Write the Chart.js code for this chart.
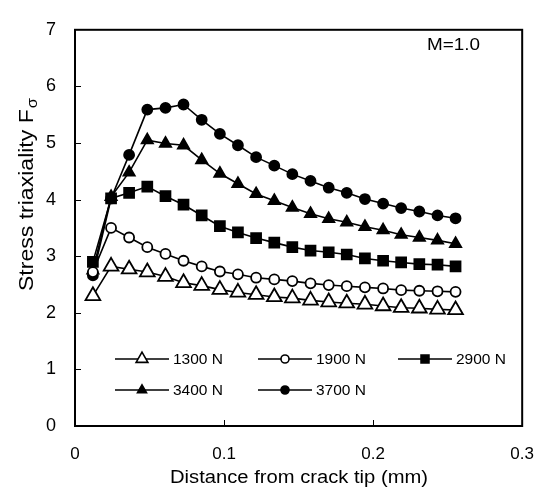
<!DOCTYPE html>
<html><head><meta charset="utf-8">
<script src="https://cdn.jsdelivr.net/npm/chart.js@4/dist/chart.umd.min.js"></script>
<style>html,body{margin:0;padding:0;background:#fff}#wrap{width:552px;height:495px}</style>
</head><body><div id="wrap"><canvas id="c" width="552" height="495"></canvas></div>
<script>
const distance = [0.0120, 0.0242, 0.0363, 0.0485, 0.0607, 0.0728, 0.0850, 0.0972, 0.1093, 0.1215, 0.1337, 0.1458, 0.1580, 0.1702, 0.1823, 0.1945, 0.2067, 0.2188, 0.2310, 0.2432, 0.2553];
const load1300 = [2.30, 2.82, 2.77, 2.72, 2.64, 2.53, 2.48, 2.41, 2.36, 2.32, 2.28, 2.26, 2.22, 2.19, 2.17, 2.15, 2.12, 2.09, 2.08, 2.06, 2.05];
const load1900 = [2.72, 3.50, 3.33, 3.16, 3.04, 2.92, 2.82, 2.73, 2.68, 2.62, 2.59, 2.56, 2.52, 2.49, 2.47, 2.45, 2.43, 2.40, 2.39, 2.38, 2.37];
const load2900 = [2.90, 4.02, 4.12, 4.23, 4.06, 3.91, 3.72, 3.53, 3.42, 3.32, 3.24, 3.16, 3.10, 3.07, 3.03, 2.96, 2.92, 2.89, 2.86, 2.85, 2.82];
const load3400 = [2.75, 4.05, 4.48, 5.05, 4.99, 4.96, 4.70, 4.46, 4.28, 4.10, 3.98, 3.86, 3.75, 3.66, 3.60, 3.52, 3.46, 3.38, 3.33, 3.28, 3.22];
const load3700 = [2.66, 4.02, 4.79, 5.59, 5.62, 5.68, 5.41, 5.16, 4.96, 4.75, 4.60, 4.45, 4.33, 4.21, 4.12, 4.01, 3.93, 3.85, 3.79, 3.72, 3.67];
const seriesLabels = ['1300 N', '1900 N', '2900 N', '3400 N', '3700 N'];
const xTicks = [0, 0.1, 0.2, 0.3];
const yTicks = [0, 1, 2, 3, 4, 5, 6, 7];
const xTitle = 'Distance from crack tip (mm)';
const yTitle = 'Stress triaxiality F';
const yTitleSub = 'σ';
const note = 'M=1.0';

const FONT = "'Liberation Sans', Arial, sans-serif";
const toXY = arr => arr.map((v, i) => ({x: distance[i], y: v}));
const styles = [
  {pointStyle: 'triangle', radius: 8.5, fill: '#fff'},
  {pointStyle: 'circle', radius: 5, fill: '#fff'},
  {pointStyle: 'rect', radius: 7, fill: '#000'},
  {pointStyle: 'triangle', radius: 6.5, fill: '#000'},
  {pointStyle: 'circle', radius: 5, fill: '#000'}
];
const values = [load1300, load1900, load2900, load3400, load3700];
const datasets = values.map((arr, k) => ({
  label: seriesLabels[k],
  data: toXY(arr),
  borderColor: '#000',
  borderWidth: 1.6,
  pointStyle: styles[k].pointStyle,
  pointRadius: styles[k].radius,
  pointBackgroundColor: styles[k].fill,
  pointBorderColor: '#000',
  pointBorderWidth: 1.8,
  tension: 0,
  clip: false
}));

function stretchedText(ctx, text, x, y, font, targetWidth) {
  ctx.save();
  ctx.font = font;
  const w = ctx.measureText(text).width;
  const s = targetWidth / w;
  ctx.translate(x, y);
  ctx.scale(s, 1);
  ctx.fillText(text, 0, 0);
  ctx.restore();
}

const decor = {
  id: 'decor',
  afterDraw(chart) {
    const ctx = chart.ctx, a = chart.chartArea;
    const xs = chart.scales.x, ys = chart.scales.y;
    ctx.save();
    ctx.strokeStyle = '#000';
    ctx.lineWidth = 2;
    ctx.strokeRect(a.left, a.top, a.right - a.left, a.bottom - a.top);
    ctx.lineWidth = 1;
    yTicks.slice(1, -1).forEach(v => {
      const p = Math.round(ys.getPixelForValue(v)) + 0.5;
      ctx.beginPath(); ctx.moveTo(a.left, p); ctx.lineTo(a.left + 6, p); ctx.stroke();
    });
    xTicks.slice(1, -1).forEach(v => {
      const p = Math.round(xs.getPixelForValue(v)) + 0.5;
      ctx.beginPath(); ctx.moveTo(p, a.bottom); ctx.lineTo(p, a.bottom - 6); ctx.stroke();
    });
    ctx.fillStyle = '#000';
    ctx.textBaseline = 'middle';
    ctx.textAlign = 'center';
    // x title (centered at 299, width ~258)
    stretchedText(ctx, xTitle, 299, 478, '17.5px ' + FONT, 258);
    // y title, rotated
    ctx.save();
    ctx.translate(27, 0);
    ctx.rotate(-Math.PI / 2);
    ctx.textAlign = 'left';
    ctx.font = '21px ' + FONT;
    const w1 = ctx.measureText(yTitle).width;
    ctx.font = '15px ' + FONT;
    const w2 = ctx.measureText(yTitleSub).width;
    const total = w1 + w2 + 1;
    const target = 193;
    const s = target / total;
    // rotated coords: x axis points upward on screen; start at screen y=291
    ctx.translate(-291, 0);
    ctx.scale(s, 1);
    ctx.font = '21px ' + FONT;
    ctx.fillText(yTitle, 0, 0);
    ctx.font = '15px ' + FONT;
    ctx.fillText(yTitleSub, w1 + 1, 6);
    ctx.restore();
    // note
    ctx.textAlign = 'left';
    stretchedText(ctx, note, 427, 46, '16px ' + FONT, 53);
    // legend
    const cols = [115, 258, 398], rows = [359, 390];
    chart.data.datasets.forEach((ds, k) => {
      const x0 = cols[k % 3], y0 = rows[Math.floor(k / 3)];
      ctx.strokeStyle = '#000'; ctx.lineWidth = 1.6;
      ctx.beginPath(); ctx.moveTo(x0, y0); ctx.lineTo(x0 + 54, y0); ctx.stroke();
      ctx.fillStyle = ds.pointBackgroundColor; ctx.strokeStyle = '#000'; ctx.lineWidth = 1.6;
      Chart.helpers.drawPoint(ctx, {pointStyle: ds.pointStyle, radius: ds.pointRadius * 0.8, rotation: 0, borderWidth: 1.6}, x0 + 27, y0);
      ctx.fillStyle = '#000';
      ctx.textAlign = 'left'; ctx.textBaseline = 'middle';
      stretchedText(ctx, ds.label, x0 + 58, y0 + 1, '14.5px ' + FONT, 50);
    });
    ctx.restore();
  }
};

new Chart(document.getElementById('c'), {
  type: 'line',
  data: {datasets},
  options: {
    responsive: false,
    animation: false,
    devicePixelRatio: 1,
    layout: {padding: {top: 18, right: 27, left: 0, bottom: 0}},
    plugins: {legend: {display: false}, tooltip: {enabled: false}},
    scales: {
      x: {
        type: 'linear', min: 0, max: 0.3,
        afterBuildTicks: s => { s.ticks = xTicks.map(v => ({value: v})); },
        afterFit: s => { s.height = 69; },
        grid: {display: false, drawTicks: false},
        border: {display: false},
        ticks: {color: '#000', font: {family: FONT, size: 17}, padding: 18, maxRotation: 0,
          callback: v => v === 0 ? '0' : v.toFixed(1)}
      },
      y: {
        type: 'linear', min: 0, max: 7,
        afterBuildTicks: s => { s.ticks = yTicks.map(v => ({value: v})); },
        afterFit: s => { s.width = 75; },
        grid: {display: false, drawTicks: false},
        border: {display: false},
        ticks: {color: '#000', font: {family: FONT, size: 18}, padding: 19,
          callback: v => String(v)}
      }
    }
  },
  plugins: [decor]
});
</script></body></html>
